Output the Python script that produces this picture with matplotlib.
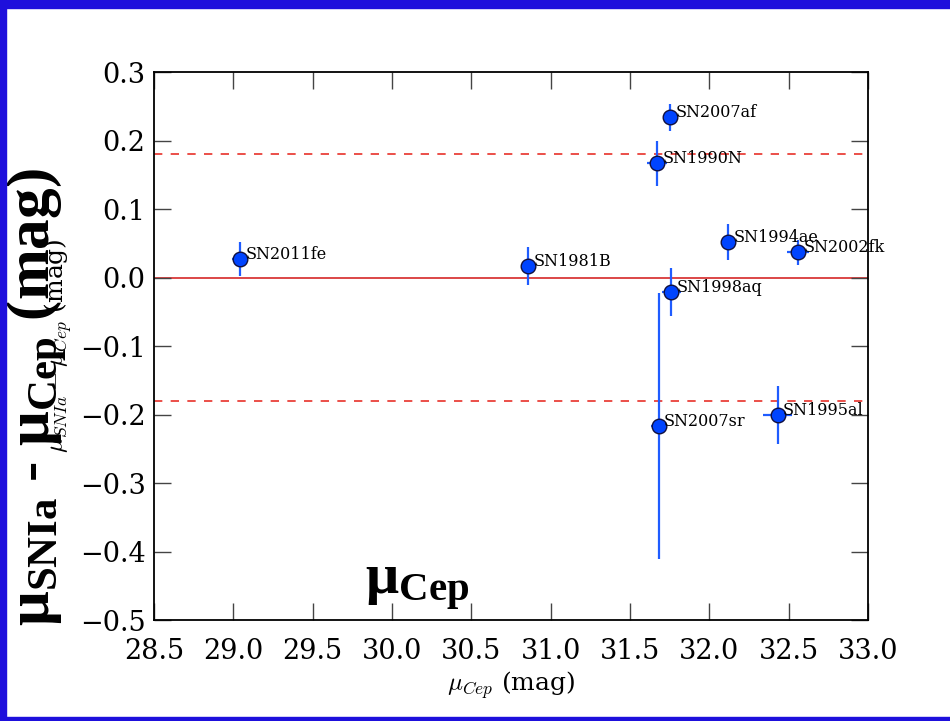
import matplotlib
matplotlib.use("Agg")
import matplotlib.pyplot as plt
from matplotlib.patches import Rectangle

# supernova hosts with Cepheid distances
names = ["SN2011fe", "SN1981B", "SN2007af", "SN1990N", "SN1994ae",
         "SN2002fk", "SN1998aq", "SN2007sr", "SN1995al"]
mu_cep = [29.04, 30.86, 31.75, 31.67, 32.12, 32.56, 31.76, 31.68, 32.43]
mu_cep_err = [0.05, 0.03, 0.03, 0.065, 0.03, 0.07, 0.06, 0.05, 0.09]
dmu = [0.027, 0.017, 0.234, 0.167, 0.052, 0.037, -0.021, -0.217, -0.201]
dmu_err = [0.025, 0.028, 0.02, 0.033, 0.026, 0.018, 0.035, 0.194, 0.042]

xticks = [28.5, 29.0, 29.5, 30.0, 30.5, 31.0, 31.5, 32.0, 32.5, 33.0]
yticks = [-0.5, -0.4, -0.3, -0.2, -0.1, 0.0, 0.1, 0.2, 0.3]
band = 0.18

plt.rcParams["mathtext.fontset"] = "custom"
plt.rcParams["mathtext.bf"] = "Liberation Serif:bold"
plt.rcParams["mathtext.rm"] = "Liberation Serif:bold"

fig = plt.figure(figsize=(9.5, 7.21), dpi=100)
ax = fig.add_axes([0.162, 0.140, 0.7517, 0.760])

ax.axhline(0.0, color="#d62728", lw=1.2, zorder=1)
ax.axhline(band, color="#e8312a", lw=1.2, ls=(0, (5, 5)), zorder=1)
ax.axhline(-band, color="#e8312a", lw=1.2, ls=(0, (5, 5)), zorder=1)

ax.errorbar(mu_cep, dmu, xerr=mu_cep_err, yerr=dmu_err, fmt="o",
            color="#1f5cff", ecolor="#1f5cff", elinewidth=1.6, capsize=0,
            markersize=10.5, markerfacecolor="#0044ff",
            markeredgecolor="#101040", markeredgewidth=1.0, zorder=3)

for n, x, y in zip(names, mu_cep, dmu):
    ax.annotate(n, (x, y), xytext=(4, 0), textcoords="offset points",
                fontsize=11.5, family="DejaVu Serif", va="baseline",
                ha="left", zorder=4)

ax.set_xlim(28.5, 33.0)
ax.set_ylim(-0.5, 0.3)
ax.set_xticks(xticks)
ax.set_yticks(yticks)
ax.set_xticklabels([f"{t:.1f}" for t in xticks])
ax.set_yticklabels([f"{t:.1f}".replace("-", "\u2212") for t in yticks])
ax.tick_params(direction="in", length=12, width=1, top=True, right=True,
               labelsize=19.5, color="#444444")
ax.tick_params(axis="x", pad=13)
ax.tick_params(axis="y", pad=6)
for lab in ax.get_xticklabels() + ax.get_yticklabels():
    lab.set_family("DejaVu Serif")
for s in ax.spines.values():
    s.set_linewidth(1.3)

ax.set_xlabel(r"$\mu_{Cep}$ (mag)", fontsize=18, family="DejaVu Serif",
              math_fontfamily="cm", labelpad=3)
ax.set_ylabel(r"$\mu_{SNIa}-\mu_{Cep}$ (mag)", fontsize=18,
              family="DejaVu Serif", math_fontfamily="cm", labelpad=4)

# big overlaid labels
fig.text(0.039, 0.449, r"$\mathbf{\mu_{SNIa}}$" + " - " + r"$\mathbf{\mu_{Cep}}$" + " (mag)",
         rotation=90, fontsize=44, family="Liberation Serif", weight="bold",
         ha="center", va="center")
fig.text(0.384, 0.176, r"$\mathbf{\mu_{Cep}}$", fontsize=42,
         family="Liberation Serif", weight="bold", ha="left", va="baseline")

# slide border
blue = "#1e0fdc"
fig.patches.append(Rectangle((0, 1 - 8 / 721), 1, 8 / 721, transform=fig.transFigure,
                             color=blue, zorder=10))
fig.patches.append(Rectangle((0, 0), 6 / 950, 1, transform=fig.transFigure,
                             color=blue, zorder=10))
fig.patches.append(Rectangle((0, 0), 1, 4 / 721, transform=fig.transFigure,
                             color=blue, zorder=10))

fig.savefig("out.png", dpi=100)
